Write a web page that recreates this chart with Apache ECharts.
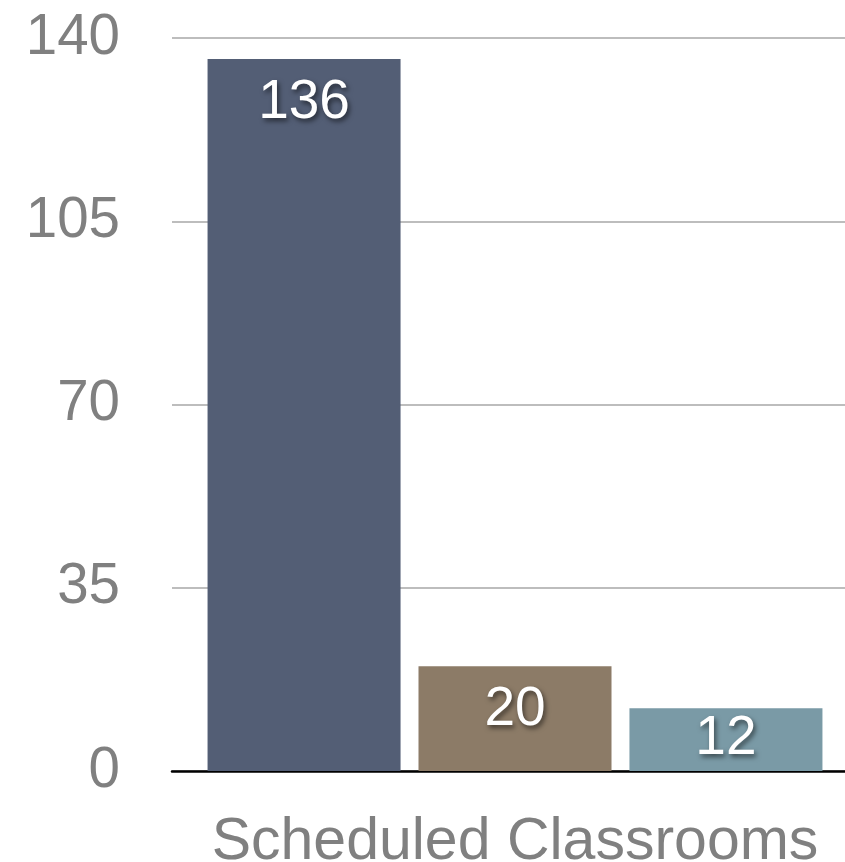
<!DOCTYPE html>
<html>
<head>
<meta charset="utf-8">
<script src="https://cdn.jsdelivr.net/npm/echarts@6/dist/echarts.min.js"></script>
<style>
html,body{margin:0;padding:0;background:#fff;}
#chart{width:845px;height:862px;}
</style>
</head>
<body>
<div id="chart"></div>
<script>
const categories = ['Scheduled Classrooms'];
const seriesNames = ['Series A', 'Series B', 'Series C'];
const seriesValues = [[136], [20], [12]];
const seriesColors = ['#535e75', '#8c7b67', '#7a9aa6'];
const yTicks = { min: 0, max: 140, interval: 35 };

const labelDistances = [16, 16, 3];

const chart = echarts.init(document.getElementById('chart'), null, { renderer: 'canvas' });
const FONT = 'Liberation Sans, Helvetica, Arial, sans-serif';

chart.setOption({
  animation: false,
  backgroundColor: '#ffffff',
  grid: { left: 172, top: 38, bottom: 91, width: 686, containLabel: false, outerBoundsMode: 'none' },
  xAxis: {
    type: 'category',
    data: categories,
    axisLine: { show: true, lineStyle: { color: '#000', width: 2.5 } },
    axisTick: { show: false },
    axisLabel: { color: '#808080', fontSize: 59, fontFamily: FONT, margin: 42 }
  },
  yAxis: {
    type: 'value',
    min: yTicks.min, max: yTicks.max, interval: yTicks.interval,
    axisLine: { show: false },
    axisTick: { show: false },
    splitLine: { lineStyle: { color: '#bdbdbd', width: 2 } },
    axisLabel: { color: '#808080', fontSize: 56.5, fontFamily: FONT, margin: 52, padding: [4, 0, 0, 0] }
  },
  series: seriesNames.map((name, i) => ({
    name: name,
    type: 'bar',
    data: seriesValues[i],
    barWidth: 193,
    barGap: '9.3%',
    itemStyle: { color: seriesColors[i] },
    z: 3,
    label: {
      show: true,
      position: 'insideTop',
      distance: labelDistances[i],
      color: '#ffffff',
      fontSize: 55,
      fontFamily: FONT,
      textShadowColor: 'rgba(0,0,0,0.55)',
      textShadowBlur: 5,
      textShadowOffsetX: 2,
      textShadowOffsetY: 3
    }
  }))
});
</script>
</body>
</html>
